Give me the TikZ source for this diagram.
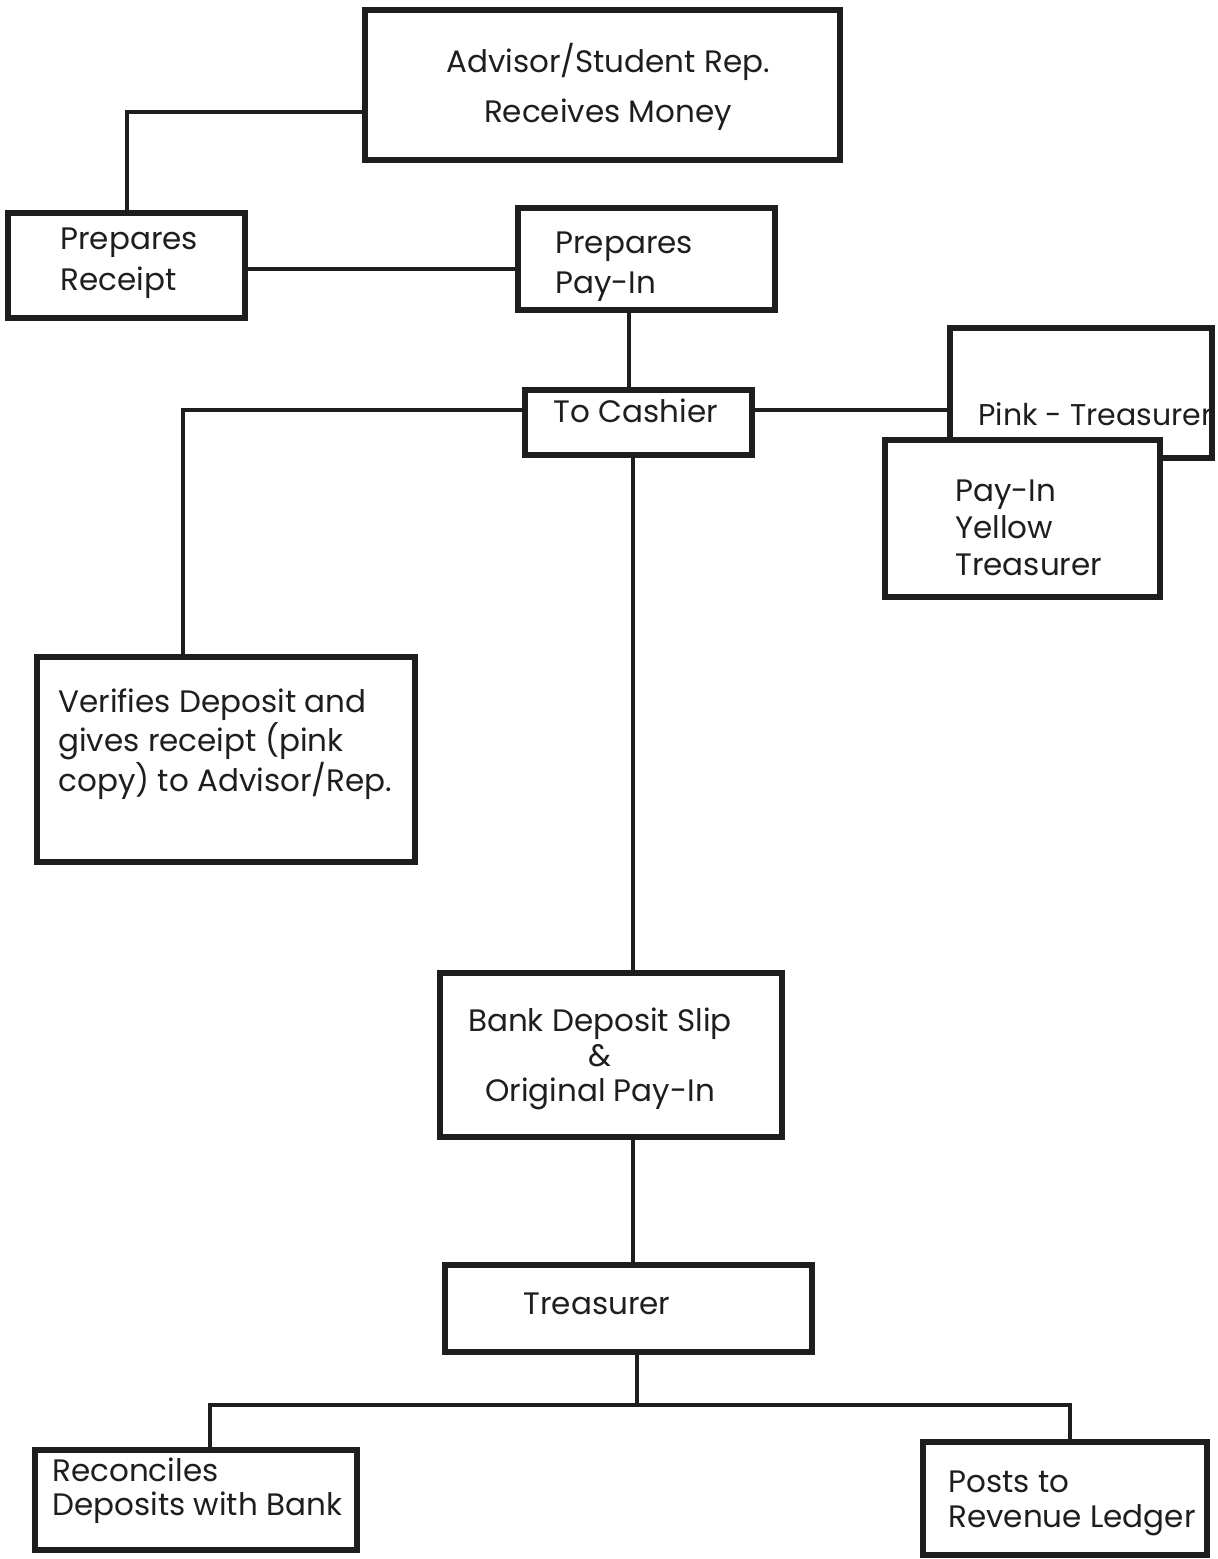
\documentclass[tikz,border=0pt]{standalone}
\usepackage{fontspec}
\setmainfont{Poppins}
\usetikzlibrary{fit}
\definecolor{ink}{HTML}{1E1E1E}
\begin{document}
\begin{tikzpicture}[x=0.5pt,y=-0.5pt,
  box/.style={draw=ink, line width=2.6pt, fill=white, inner sep=0pt},
  wire/.style={draw=ink, line width=1.8pt},
  txt/.style={inner sep=0pt, text=ink, font=\fontsize{15.5}{#1}\selectfont},
  txt/.default=20]
\useasboundingbox[fill=white] (0,0) rectangle (1218,1559);
% boxes
\node[box, fit={(365,10)(840,160)}] (b1) {};
\node[box, fit={(8,213)(245,318)}] (b2) {};
\node[box, fit={(518,208)(775,310)}] (b3) {};
\node[box, fit={(525,390)(752,455)}] (b4) {};
\node[box, fit={(950,328)(1212,458)}] (b5) {};
\node[box, fit={(885,440)(1160,597)}] (b6) {};
\node[box, fit={(37,657)(415,862)}] (b7) {};
\node[box, fit={(440,973)(782,1137)}] (b8) {};
\node[box, fit={(445,1265)(812,1352)}] (b9) {};
\node[box, fit={(35,1450)(357,1550)}] (b10) {};
\node[box, fit={(923,1442)(1207,1555)}] (b11) {};
% texts
\node[txt=25, align=center] (t1) at (608,87) {Advisor/Student Rep.\\Receives Money};
\node[txt=20.5, align=left, anchor=west] (t2) at (60,263) {Prepares\\Receipt};
\node[txt=20, align=left, anchor=west] (t3) at (555,267) {Prepares\\Pay-In};
\node[txt, anchor=center] (t4) at (636,411) {To Cashier};
\node[txt, anchor=west, font=\fontsize{15}{18}\selectfont] (t5) at (978,414) {Pink - Treasurer};
\node[txt=18.5, align=left, anchor=west] (t6) at (955,528) {Pay-In\\Yellow\\Treasurer};
\node[txt=17.5, align=left, anchor=west] (t7) at (58,744) {Verifies Deposit and\\gives receipt (pink\\copy) to Advisor/Rep.};
\node[txt=17.5, align=center] (t8) at (600,1059) {Bank Deposit Slip\\\&\\Original Pay-In};
\node[txt] (t9) at (597,1304) {Treasurer};
\node[txt=17, align=left, anchor=west] (t10) at (52,1491) {Reconciles\\Deposits with Bank};
\node[txt=17.5, align=left, anchor=west] (t11) at (948,1503) {Posts to\\Revenue Ledger};
% junction coordinates
\coordinate (j1) at (127,112);
\coordinate (j2) at (300,269);
\coordinate (j3) at (629,350);
\coordinate (j4) at (183,410);
\coordinate (j5) at (850,410);
\coordinate (j6) at (633,700);
\coordinate (j7) at (637,1405);
\coordinate (j8) at (210,1405);
\coordinate (j9) at (1070,1405);
% connectors
\draw[wire] (b1.west |- j1) -- (j1) -- (j1 |- b2.north);
\draw[wire] (b2.east |- j2) -- (b3.west |- j2);
\draw[wire] (j3 |- b3.south) -- (j3 |- b4.north);
\draw[wire] (b4.west |- j4) -- (j4) -- (j4 |- b7.north);
\draw[wire] (b4.east |- j5) -- (b5.west |- j5);
\draw[wire] (j6 |- b4.south) -- (j6 |- b8.north);
\draw[wire] (j6 |- b8.south) -- (j6 |- b9.north);
\draw[wire] (j7 |- b9.south) -- (j7);
\draw[wire] (j8 |- b10.north) -- (j8) -- (j9) -- (j9 |- b11.north);
\end{tikzpicture}
\end{document}
